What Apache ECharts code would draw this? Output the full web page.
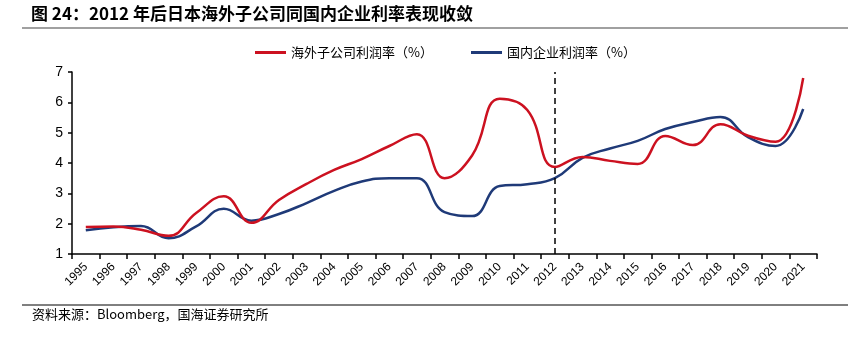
<!DOCTYPE html>
<html>
<head>
<meta charset="utf-8">
<script src="https://cdn.jsdelivr.net/npm/echarts@6/dist/echarts.min.js"></script>
<style>
html,body{margin:0;padding:0;background:#fff;}
#chart{width:850px;height:337px;}
</style>
</head>
<body>
<div id="chart"></div>
<script>
const years = ['1995','1996','1997','1998','1999','2000','2001','2002','2003','2004','2005','2006','2007','2008','2009','2010','2011','2012','2013','2014','2015','2016','2017','2018','2019','2020','2021'];
const overseasMargin = [1.89,1.91,1.80,1.60,2.35,2.90,2.03,2.78,3.31,3.77,4.13,4.56,4.95,3.50,4.25,6.12,5.75,3.87,4.20,4.07,3.97,4.89,4.59,5.28,4.90,4.70,6.80];
const domesticMargin = [1.78,1.88,1.92,1.52,1.91,2.49,2.10,2.32,2.68,3.08,3.39,3.50,3.50,2.38,2.25,3.24,3.30,3.50,4.17,4.48,4.73,5.12,5.35,5.52,4.85,4.56,5.78];
const seriesNames = ['海外子公司利润率（%）','国内企业利润率（%）'];
const markYear = '2012';
const titleText = '图 24：2012 年后日本海外子公司同国内企业利率表现收敛';
const sourceText = '资料来源：Bloomberg，国海证券研究所';

const FONT = '"Noto Sans CJK SC", "Liberation Sans", sans-serif';
const chart = echarts.init(document.getElementById('chart'), null, {renderer:'canvas'});
chart.setOption({
  animation:false,
  backgroundColor:'#fff',
  textStyle:{fontFamily:FONT},
  graphic:[
    {type:'text', left:31, top:5, style:{text:titleText, font:'bold 17px ' + FONT, fill:'#000'}},
    {type:'line', shape:{x1:22,y1:28,x2:848,y2:28}, style:{stroke:'#808080', lineWidth:1.5}},
    {type:'line', shape:{x1:22,y1:305,x2:848,y2:305}, style:{stroke:'#000', lineWidth:1}},
    {type:'text', left:32, top:308, style:{text:sourceText, font:'13px ' + FONT, fill:'#000'}}
  ],
  legend:{
    left:255, top:46, padding:0,
    itemWidth:31, itemHeight:3, itemGap:38,
    icon:'rect',
    textStyle:{fontSize:13, color:'#000', fontFamily:FONT},
    data:seriesNames
  },
  grid:{left:72, right:33, top:72, bottom:83},
  xAxis:{
    type:'category',
    data:years,
    boundaryGap:true,
    axisLine:{lineStyle:{color:'#000', width:1.5}},
    axisTick:{show:true, length:5, inside:false, lineStyle:{color:'#000', width:1.5}},
    axisLabel:{rotate:45, margin:11, fontSize:12, color:'#000', fontFamily:'"Liberation Sans", Arial, sans-serif'},
    splitLine:{show:false}
  },
  yAxis:{
    type:'value',
    min:1, max:7, interval:1,
    axisLine:{show:true, lineStyle:{color:'#000', width:1.5}},
    axisTick:{show:true, length:4, lineStyle:{color:'#000', width:1.5}},
    axisLabel:{fontSize:14, color:'#000', margin:9, fontFamily:'"Liberation Sans", Arial, sans-serif'},
    splitLine:{show:false}
  },
  series:[
    {
      name:seriesNames[0], type:'line', data:overseasMargin, smooth:0.45,
      symbol:'none', lineStyle:{color:'#CC1120', width:2.5}, itemStyle:{color:'#CC1120'},
      z:3,
      markLine:{
        silent:true, symbol:'none', label:{show:false},
        lineStyle:{color:'#000', type:[6,4], width:1.5},
        data:[{xAxis:markYear}]
      }
    },
    {
      name:seriesNames[1], type:'line', data:domesticMargin, smooth:0.45,
      symbol:'none', lineStyle:{color:'#1F3A78', width:2.5}, itemStyle:{color:'#1F3A78'},
      z:2
    }
  ]
});
</script>
</body>
</html>
